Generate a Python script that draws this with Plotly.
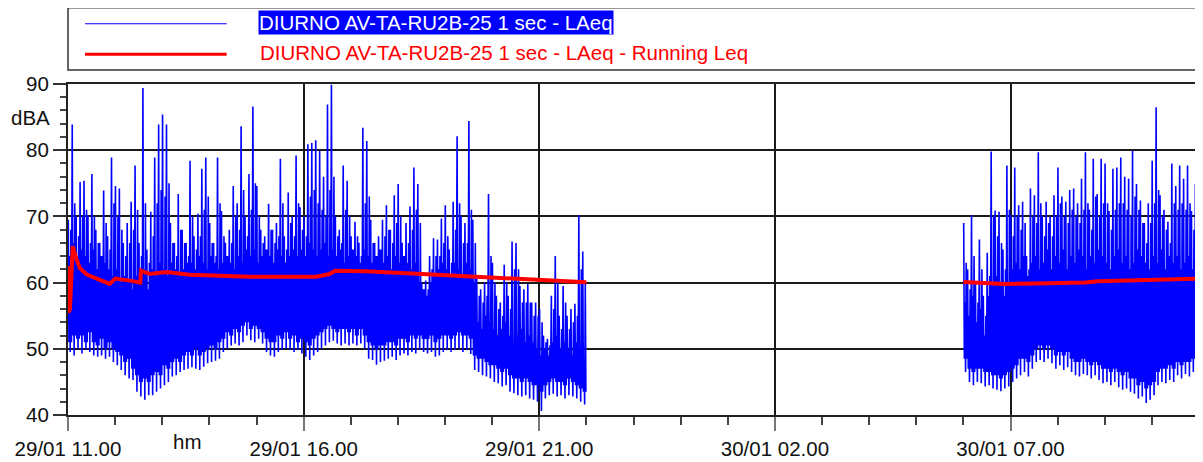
import pandas as pd
import plotly.graph_objects as go

# 1 sec LAeq, read in 5-minute slots (dBA): peak, second peak, band top,
# typical floor and lowest dip
day1_start = "2025-01-29 11:00"
hi1 = [
    69.5, 83.9, 70, 75.2, 75.4, 70.2, 76.4, 68, 66, 73.9,
    67, 78.9, 74.6, 74.2, 66, 69, 72.2, 77.7, 66, 89.4,
    65, 70.7, 78.9, 83.9, 85.4, 83.9, 69, 66, 73.4, 68,
    66, 78.4, 67, 70.4, 77.2, 78.9, 69, 66, 78.9, 70.8,
    66, 68, 74.6, 72, 83.6, 70, 76.4, 86.6, 74.6, 68,
    67, 71.9, 68, 69, 78.7, 67, 73.6, 70, 79.2, 71.4,
    70, 80.9, 81.1, 81.5, 79.9, 76, 86.9, 89.9, 70, 68,
    77.7, 75.4, 67, 69.2, 66, 83.4, 81.4, 69.5, 66, 67,
    69.5, 71.7, 68, 73.2, 74.9, 66, 69, 71.5, 77.4, 74.9,
    60, 60.3, 64, 66.7, 66.5, 69.7, 71.7, 65, 72.2, 82.1,
    70, 69, 84.4, 69.5, 61, 59, 60, 73.4, 63, 58,
    57, 62.7, 58, 66.2, 66, 59.5, 59, 59.8, 57, 57,
    56, 52, 51.5, 58, 64, 55, 59.5, 55, 56, 56.8,
    70.2, 64.7,
]
pk1 = [
    68, 72, 67, 70, 71, 66, 70, 66, 64, 69,
    65, 72, 70, 68, 64, 66, 68, 71, 64, 72,
    63, 67, 72, 74, 73, 75, 66, 64, 68, 66,
    64, 70, 65, 67, 71, 73, 66, 64, 72, 67,
    64, 66, 70, 68, 74, 67, 71, 75, 70, 66,
    65, 68, 66, 67, 72, 65, 69, 67, 72, 68,
    67, 73, 74, 72, 71, 70, 74, 76, 67, 66,
    71, 70, 65, 67, 64, 72, 73, 66, 64, 65,
    67, 68, 66, 69, 70, 64, 66, 68, 71, 69,
    59, 59, 62, 64, 64, 66, 67, 63, 68, 72,
    66, 66, 71, 66, 58, 57, 58, 64, 60, 56,
    55, 60, 56, 62, 62, 57, 57, 57, 55, 55,
    54, 51, 50.5, 56, 60, 53, 57, 53, 54, 55,
    62, 60,
]
mid1 = [
    64, 66, 63, 65, 64, 63, 65, 62, 64, 63,
    62, 61, 62, 60, 61, 60, 59, 61, 60, 62,
    59, 62, 61, 63, 62, 61, 63, 62, 61, 62,
    63, 63, 62, 64, 63, 62, 64, 63, 62, 63,
    64, 63, 62, 64, 63, 65, 64, 65, 63, 64,
    65, 64, 63, 65, 64, 63, 64, 65, 64, 65,
    64, 66, 65, 64, 65, 66, 64, 65, 64, 65,
    63, 64, 65, 64, 63, 65, 64, 63, 64, 65,
    63, 64, 62, 64, 63, 64, 63, 62, 63, 60,
    59, 58, 60, 61, 62, 63, 62, 61, 63, 62,
    61, 63, 62, 60, 54, 53, 55, 54, 53, 52,
    53, 54, 52, 51, 52, 53, 51, 52, 51, 50,
    49, 50, 49, 51, 52, 50, 51, 50, 49, 51,
    50, 48,
]
fl1 = [
    51, 52, 51.5, 52, 51, 52.5, 51, 50.5, 51.5, 50,
    51, 50, 49.5, 49, 48, 48.5, 47, 46, 45, 45.5,
    45, 46, 46.5, 46, 47.5, 47, 48, 48.5, 48, 49,
    49.5, 49, 50, 49, 49.5, 50, 50.5, 50, 51, 51.5,
    52.5, 52, 53, 52.5, 53.5, 54, 53, 53.5, 53, 52.5,
    51.5, 51, 51, 52, 51.5, 52.5, 51.5, 52, 51, 51.5,
    51, 50.5, 51.5, 52, 52.5, 53, 53.5, 53, 52.5, 53,
    53, 52.5, 53, 52, 53, 52, 51, 50.5, 50, 50.5,
    50.5, 51, 51, 50.5, 51.5, 51.5, 51, 52, 51.5, 52,
    51.5, 51.5, 52, 51, 51.5, 52, 52, 51.5, 52, 52.5,
    52, 52, 51.5, 49, 48.5, 48.5, 48, 47.5, 47.5, 47,
    46.5, 47, 46, 45.5, 45.5, 45, 45.5, 45, 44.5, 44.5,
    43.5, 44.5, 45, 45.5, 45, 45, 44.5, 45.5, 45, 44.5,
    44, 43.5,
]
lo1 = [
    49.5, 49, 50, 49.3, 49.8, 49.5, 49, 48.8, 49, 48.5,
    48.8, 48, 47.5, 46.8, 46, 45.5, 45.3, 43.5, 42.8, 42.3,
    43, 43, 43.5, 44, 44.5, 45, 45.8, 46, 46.5, 46.8,
    47, 47.2, 47, 46.8, 47.3, 47.8, 48, 48.2, 48.5, 49.5,
    50, 50.5, 50.8, 50.5, 51, 52, 51.3, 51, 51.5, 50.8,
    49.5, 49, 48.8, 49.5, 49.8, 50, 49.8, 49.5, 49.8, 49.3,
    48.8, 48.3, 49, 49.5, 50, 50.5, 51, 51.2, 50.8, 50.5,
    50.8, 50.5, 50.8, 50.5, 50.8, 50, 48.5, 48.3, 47.6, 48,
    48.2, 48.5, 48.8, 48.3, 49, 49.3, 49, 49.5, 49.3, 49.8,
    49.5, 49.3, 49.5, 48.8, 49, 49.5, 49.8, 49.5, 49.8, 50,
    49.5, 49.8, 49.2, 46.8, 46.5, 46, 45.8, 45.5, 45, 44.8,
    44.3, 44.5, 43.5, 43.3, 43, 42.8, 43, 42.5, 42.3, 42,
    40.6, 42.5, 43, 43.2, 42.8, 43, 42.5, 43, 42.8, 42.5,
    42, 41.6,
]

day2_start = "2025-01-30 06:00"
hi2 = [
    69, 62, 70.2, 60, 66.5, 58, 64.5, 79.8, 70.9, 70.7,
    65, 77.7, 70.2, 77.4, 71.7, 72.2, 64, 74.2, 73.2, 79.7,
    70, 72.2, 70, 73.2, 77.4, 73, 72.2, 74, 74.2, 72,
    75.7, 79.7, 71, 78.7, 73.4, 78.7, 78, 70.8, 77.2, 77.4,
    78.9, 76, 75.7, 79.9, 74.9, 72.4, 69, 72, 78.4, 86.5,
    73.2, 71, 69.2, 78, 74.6, 77.7, 75.7, 77.7, 70.8, 74.9,
]
pk2 = [
    63, 59, 64, 57, 62, 55, 61, 70, 67, 66,
    62, 71, 67, 70, 68, 69, 62, 70, 69, 72,
    67, 69, 67, 70, 72, 70, 69, 71, 70, 69,
    71, 72, 68, 73, 70, 72, 72, 68, 71, 72,
    72, 71, 70, 73, 71, 69, 66, 69, 72, 74,
    70, 68, 66, 72, 71, 72, 71, 72, 68, 70,
]
mid2 = [
    57, 55, 58, 54, 56, 52, 58, 60, 61, 60,
    58, 60, 62, 63, 62, 64, 61, 63, 64, 62,
    63, 65, 62, 64, 63, 65, 62, 64, 63, 65,
    64, 62, 64, 63, 65, 64, 63, 62, 64, 65,
    63, 64, 62, 63, 65, 64, 63, 62, 64, 63,
    65, 62, 64, 63, 64, 62, 63, 64, 62, 63,
]
fl2 = [
    48.5, 47, 46.5, 47, 47, 46.5, 46.5, 46, 46, 45.5,
    46, 46.5, 47, 47.5, 48.5, 48.5, 48, 49, 50, 50.5,
    50, 50.5, 50, 49, 49.5, 49, 49.5, 48.5, 48, 48,
    48.5, 48, 47.5, 48, 47.5, 47, 47, 46.5, 47, 46.5,
    46, 46.5, 45.5, 45.5, 44.5, 45, 44, 44.5, 45, 46.5,
    47, 47, 47.5, 47, 48, 47.5, 48, 48, 48.5, 52,
]
lo2 = [
    46.5, 45, 44.5, 45, 44.8, 44.3, 44.5, 44, 43.8, 43.6,
    44, 44.3, 45, 45.5, 46, 46.5, 45.8, 47, 48, 48.3,
    48, 48.5, 47.8, 47, 47.5, 46.8, 47.2, 46.5, 46, 45.8,
    46.2, 46, 45.5, 46, 45.3, 44.8, 45, 44.5, 45, 44.2,
    43.8, 44, 43.5, 43.2, 42.5, 42.8, 41.8, 42.3, 43, 44.5,
    45, 44.8, 45.3, 45, 46, 45.5, 46.2, 45.8, 46.5, 50.8,
]

# running Leq
run1_time = ["11:00:00", "11:00:36", "11:02:30", "11:06", "11:10", "11:15", "11:24", "11:32",
             "11:41", "11:53", "12:00", "12:09", "12:19", "12:32", "12:33", "12:44", "13:05",
             "13:35", "14:09", "14:51", "16:16", "16:33", "16:40", "17:19", "18:31", "19:26",
             "20:09", "20:59", "22:00"]
run1_val = [62.5, 55.5, 56, 65.5, 63.8, 62.2, 61.2, 60.8, 60.3, 59.8, 60.6, 60.5, 60.3, 60.0,
            61.8, 61.3, 61.6, 61.2, 61.0, 60.9, 60.9, 61.3, 61.8, 61.7, 61.3, 61.0, 60.7, 60.4,
            60.05]
run2_time = ["06:00", "06:25", "06:53", "07:48", "08:35", "08:51", "09:42", "10:59"]
run2_val = [60.1, 59.9, 59.8, 59.9, 60.0, 60.2, 60.4, 60.6]

BLUE = "#0000ff"
RED = "#ff0000"
FONT = "Liberation Sans, Arial, sans-serif"
FS = 20.5


def zigzag(start, hi, pk, mid, fl, lo):
    t0 = pd.Timestamp(start)
    xs, ys = [], []
    for k in range(len(hi)):
        base = t0 + pd.Timedelta(minutes=5 * k)
        seq = ((0.4, hi[k]), (1.2, fl[k]), (2.0, mid[k]),
               (2.8, lo[k]), (3.6, pk[k]), (4.4, fl[k]))
        for off, v in seq:
            xs.append(base + pd.Timedelta(minutes=off))
            ys.append(v)
    return xs, ys


x1, y1 = zigzag(day1_start, hi1, pk1, mid1, fl1, lo1)
x2, y2 = zigzag(day2_start, hi2, pk2, mid2, fl2, lo2)
bx = x1 + [None] + x2
by = y1 + [None] + y2

rx = [pd.Timestamp("2025-01-29 " + t) for t in run1_time] + [None] + \
     [pd.Timestamp("2025-01-30 " + t) for t in run2_time]
ry = run1_val + [None] + run2_val

fig = go.Figure()
fig.add_trace(go.Scatter(x=bx, y=by, mode="lines", line=dict(color=BLUE, width=1.6),
                         connectgaps=False, showlegend=False, hoverinfo="skip"))
fig.add_trace(go.Scatter(x=rx, y=ry, mode="lines", line=dict(color=RED, width=4),
                         connectgaps=False, showlegend=False, hoverinfo="skip"))

axis_common = dict(
    showline=True, linecolor="#222", linewidth=2, mirror=True,
    showgrid=True, gridcolor="#1a1a1a", gridwidth=1.5, zeroline=False,
    ticks="outside", tickfont=dict(family=FONT, size=FS, color="#111"),
)

fig.update_xaxes(
    type="date",
    range=["2025-01-29 11:00", "2025-01-30 11:00"],
    tick0="2025-01-29 11:00", dtick=5 * 3600 * 1000,
    tickformat="%d/%m %H.%M",
    ticklen=14, tickwidth=2, tickcolor="#777",
    minor=dict(dtick=3600 * 1000, tick0="2025-01-29 11:00", ticks="outside",
               ticklen=8, tickwidth=1.5, tickcolor="#444", showgrid=False),
    **axis_common,
)
fig.update_yaxes(
    range=[40, 90], dtick=10,
    ticklen=13, tickwidth=1.5, tickcolor="#333",
    minor=dict(dtick=2, ticks="outside", ticklen=6, tickwidth=1.5,
               tickcolor="#444", showgrid=False),
    **axis_common,
)

# legend drawn as a box like the original
shapes = [
    dict(type="rect", xref="paper", yref="paper", x0=0, x1=1.0, y0=1.042, y1=1.23,
         line=dict(color="#333", width=1.5), fillcolor="white"),
    dict(type="line", xref="paper", yref="paper", x0=0.015, x1=0.1403, y0=1.182, y1=1.182,
         line=dict(color=BLUE, width=1.2)),
    dict(type="line", xref="paper", yref="paper", x0=0.015, x1=0.1403, y0=1.0896, y1=1.0896,
         line=dict(color=RED, width=3)),
]

annotations = [
    dict(text="DIURNO AV-TA-RU2B-25 1 sec - LAeq", xref="paper", yref="paper",
         x=0.1677, y=1.186, xanchor="left", yanchor="middle", showarrow=False,
         font=dict(family=FONT, size=FS, color="white"), bgcolor=BLUE, borderpad=0),
    dict(text="DIURNO AV-TA-RU2B-25 1 sec - LAeq - Running Leq", xref="paper", yref="paper",
         x=0.1677, y=1.0955, xanchor="left", yanchor="middle", showarrow=False,
         font=dict(family=FONT, size=FS, color=RED)),
    dict(text="dBA", xref="paper", yref="y", x=-0.014, y=85, xanchor="right",
         yanchor="middle", showarrow=False, font=dict(family=FONT, size=FS, color="#111")),
    dict(text="hm", xref="paper", yref="paper", x=0.105, y=-0.08, xanchor="center",
         yanchor="middle", showarrow=False, font=dict(family=FONT, size=FS, color="#111")),
]

# the page body adds an 8 px margin, so the figure is 8 px smaller each way
fig.update_layout(
    width=1195, height=454,
    margin=dict(l=60, r=2, t=76, b=43),
    paper_bgcolor="white", plot_bgcolor="white",
    shapes=shapes, annotations=annotations,
    showlegend=False,
    font=dict(family=FONT),
)

fig.write_html("out.html")
